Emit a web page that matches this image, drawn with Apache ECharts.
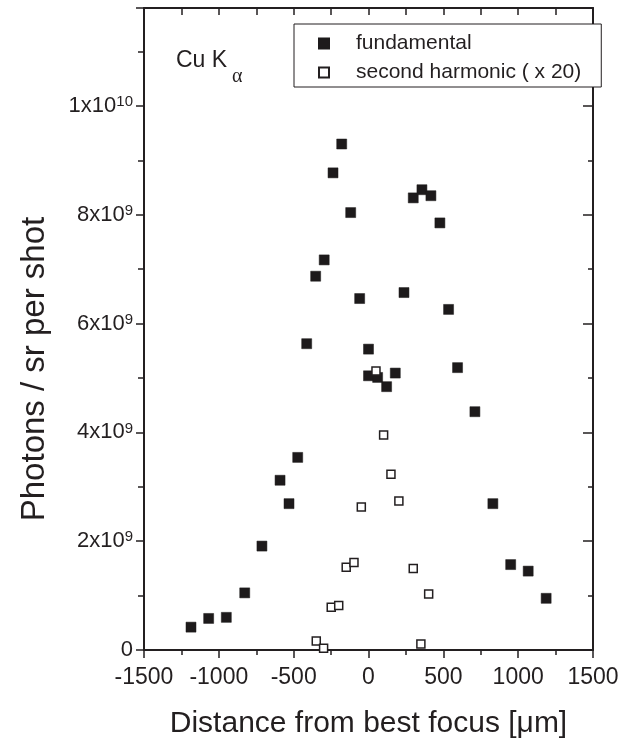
<!DOCTYPE html>
<html>
<head>
<meta charset="utf-8">
<script src="https://cdn.jsdelivr.net/npm/echarts@6/dist/echarts.min.js"></script>
<style>
  html, body { margin: 0; padding: 0; background: #fff; }
  #chart { width: 633px; height: 738px; }
</style>
</head>
<body>
<div id="chart"></div>
<script>
// distance from best focus (um) and photons / sr per shot
const fundamentalX = [-1186, -1068, -950, -827, -712, -591, -531, -473, -413, -353, -296, -237, -179, -119, -59, 0, 0, 61, 121, 179, 237, 299, 357, 417, 477, 535, 595, 711, 831, 950, 1067, 1187]
const fundamentalY = [0.42e9, 0.58e9, 0.60e9, 1.05e9, 1.91e9, 3.12e9, 2.69e9, 3.54e9, 5.63e9, 6.87e9, 7.17e9, 8.77e9, 9.30e9, 8.04e9, 6.46e9, 5.53e9, 5.04e9, 5.01e9, 4.84e9, 5.09e9, 6.57e9, 8.31e9, 8.46e9, 8.35e9, 7.85e9, 6.26e9, 5.19e9, 4.38e9, 2.69e9, 1.57e9, 1.45e9, 0.95e9]

const harmonicX = [-349, -300, -249, -199, -149, -97, -48, 50, 101, 150, 203, 299, 350, 402]
const harmonicY = [0.165e9, 0.03e9, 0.785e9, 0.82e9, 1.52e9, 1.61e9, 2.63e9, 5.13e9, 3.95e9, 3.23e9, 2.74e9, 1.50e9, 0.11e9, 1.03e9]

const xTicks = [-1500, -1000, -500, 0, 500, 1000, 1500]
const yTickLabels = { 0: '0', 2e9: '2x10|9', 4e9: '4x10|9', 6e9: '6x10|9', 8e9: '8x10|9', 1e10: '1x10|10' }

const chart = echarts.init(document.getElementById('chart'))

const axisColor = '#231f20'
const font = 'Liberation Sans, Arial, sans-serif'

const zip = (xs, ys) => xs.map((x, i) => [x, ys[i]])

const tickStyle = { color: axisColor, width: 1.5 }

const option = {
  animation: false,
  grid: { left: 144, right: 40, top: 8, bottom: 88, outerBoundsMode: 'none' },
  legend: {
    orient: 'vertical',
    left: 294,
    top: 24,
    padding: [9, 20, 4, 24],
    itemGap: 8,
    itemWidth: 10,
    itemHeight: 10,
    borderColor: '#231f20',
    borderWidth: 1,
    backgroundColor: '#fff',
    textStyle: { fontFamily: font, fontSize: 21, color: '#231f20', padding: [0, 0, 0, 22] },
    data: [
      { name: 'fundamental', icon: 'rect' },
      { name: 'second harmonic ( x 20)', icon: 'rect' }
    ]
  },
  graphic: [
    { type: 'text', left: 176, top: 49, style: { text: 'Cu K', font: '23px ' + font, fill: '#231f20' } },
    { type: 'text', left: 232, top: 67, style: { text: 'α', font: '20px "Liberation Serif", serif', fill: '#231f20' } },
    {
      type: 'text', x: 35, y: 369, rotation: Math.PI / 2,
      style: { text: 'Photons / sr per shot', font: '33px ' + font, fill: '#231f20', align: 'center', verticalAlign: 'middle' }
    }
  ],
  xAxis: [
    {
      type: 'value', min: -1500, max: 1500, interval: 500, position: 'bottom',
      name: 'Distance from best focus [μm]', nameLocation: 'middle', nameGap: 59,
      nameTextStyle: { fontFamily: font, fontSize: 30, color: '#231f20' },
      axisLine: { onZero: false, lineStyle: { color: axisColor, width: 2 } },
      axisTick: { inside: false, length: 8, lineStyle: tickStyle },
      minorTick: { show: true, splitNumber: 2, length: 5, lineStyle: tickStyle },
      axisLabel: {
        fontFamily: font, fontSize: 23, color: '#231f20', margin: 16,
        formatter: v => xTicks.includes(v) ? String(v) : ''
      },
      splitLine: { show: false }
    },
    {
      type: 'value', min: -1500, max: 1500, interval: 500, position: 'top',
      axisLine: { onZero: false, lineStyle: { color: axisColor, width: 2 } },
      axisTick: { inside: true, length: 7, lineStyle: tickStyle },
      minorTick: { show: true, splitNumber: 2, length: 7, lineStyle: tickStyle },
      axisLabel: { show: false },
      splitLine: { show: false }
    }
  ],
  yAxis: [
    {
      type: 'value', min: 0, max: 1.18e10, interval: 2e9, position: 'left',
      axisLine: { onZero: false, lineStyle: { color: axisColor, width: 2 } },
      axisTick: { inside: false, length: 8, lineStyle: tickStyle },
      minorTick: { show: true, splitNumber: 2, length: 6, lineStyle: tickStyle },
      axisLabel: {
        showMaxLabel: false, margin: 11,
        formatter: v => {
          const t = yTickLabels[v]
          if (t === undefined) return ''
          if (t.indexOf('|') < 0) return '{b|' + t + '}'
          const p = t.split('|')
          return '{b|' + p[0] + '}{s|' + p[1] + '}'
        },
        rich: {
          b: { fontFamily: font, fontSize: 22, color: '#231f20' },
          s: { fontFamily: font, fontSize: 15, color: '#231f20', verticalAlign: 'top', padding: [0, 0, 8, 0] }
        }
      },
      splitLine: { show: false }
    },
    {
      type: 'value', min: 0, max: 1.18e10, interval: 2e9, position: 'right',
      axisLine: { onZero: false, lineStyle: { color: axisColor, width: 2 } },
      axisTick: { inside: true, length: 10, lineStyle: tickStyle },
      minorTick: { show: true, splitNumber: 2, length: 5, lineStyle: tickStyle },
      axisLabel: { show: false },
      splitLine: { show: false }
    }
  ],
  series: [
    {
      name: 'fundamental',
      type: 'scatter',
      symbol: 'rect',
      symbolSize: 10,
      itemStyle: { color: '#1d1a1b', borderColor: '#1d1a1b', borderWidth: 0.5, opacity: 1 },
      data: zip(fundamentalX, fundamentalY),
      z: 3
    },
    {
      name: 'second harmonic ( x 20)',
      type: 'scatter',
      symbol: 'rect',
      symbolSize: 8,
      itemStyle: { color: '#fff', borderColor: '#231f20', borderWidth: 1.5, opacity: 1 },
      data: zip(harmonicX, harmonicY),
      z: 4
    }
  ]
}

chart.setOption(option)
</script>
</body>
</html>
